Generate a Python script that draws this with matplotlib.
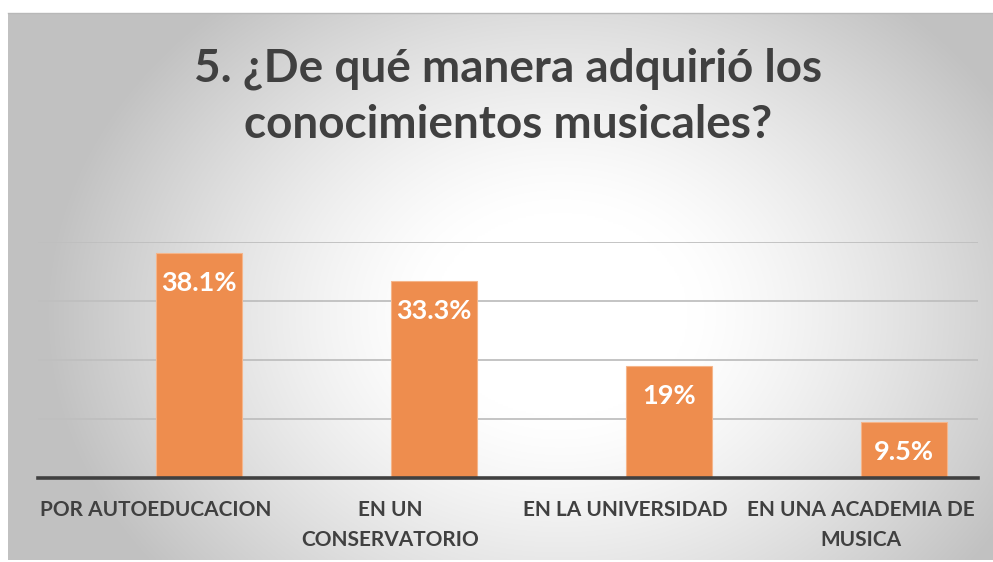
import numpy as np
import matplotlib
matplotlib.use("Agg")
import matplotlib.pyplot as plt
from matplotlib.transforms import blended_transform_factory

categories = ["POR AUTOEDUCACION", "EN UN\nCONSERVATORIO", "EN LA UNIVERSIDAD", "EN UNA ACADEMIA DE\nMUSICA"]
values = [38.1, 33.3, 19.0, 9.5]
value_labels = ["38.1%", "33.3%", "19%", "9.5%"]
title = "5. ¿De qué manera adquirió los\nconocimientos musicales?"

W, H = 993, 562
fig = plt.figure(figsize=(W / 100, H / 100), dpi=100)
fig.patch.set_facecolor("white")

# background radial gradient for chart area
bx0, by0, bx1, by1 = 8, 13, 993, 560
bg = fig.add_axes([bx0 / W, 1 - by1 / H, (bx1 - bx0) / W, (by1 - by0) / H], zorder=0)
ny, nx = 300, 600
yy, xx = np.mgrid[0:ny, 0:nx]
cx, cy = 0.56 * nx, 0.55 * ny
d = np.sqrt(((xx - cx) / (0.52 * nx)) ** 2 + ((yy - cy) / (0.75 * ny)) ** 2)
d = np.clip((d - 0.25) / 0.75, 0, 1)
val = 1.0 - (1.0 - 0.76) * d ** 1.3
img = np.dstack([val, val, val])
bg.imshow(img, aspect="auto", extent=[0, 1, 0, 1], origin="upper", interpolation="bilinear")
bg.set_xlim(0, 1); bg.set_ylim(0, 1)
bg.axis("off")
bg.plot([0, 1], [1, 1], color="#b8b8b8", lw=1.0, transform=bg.transAxes, clip_on=False)

font = "Lato"
ax_left, ax_right, ax_top, ax_bottom = 38, 978, 242, 477.7
ax = fig.add_axes([ax_left / W, 1 - ax_bottom / H, (ax_right - ax_left) / W, (ax_bottom - ax_top) / H], zorder=1)
ax.patch.set_alpha(0)
x = np.arange(len(categories))
bars = ax.bar(x, values, width=0.37, align="edge", color="#EE8D4E",
              edgecolor="#F5B58A", linewidth=0.8, zorder=2)
ax.set_xlim(-0.5, 3.5)
ax.set_ylim(0, 40)
ax.set_yticks([0, 10, 20, 30, 40])
ax.yaxis.grid(True, color="#BFBFBF", lw=1.3, zorder=1)
ax.set_axisbelow(True)
ax.tick_params(left=False, labelleft=False, bottom=False, labelbottom=False)
for s in ["left", "right", "top"]:
    ax.spines[s].set_visible(False)
ax.spines["bottom"].set_color("#404040")
ax.spines["bottom"].set_linewidth(2.6)
ax.spines["bottom"].set_zorder(3)

for b, lab in zip(bars, value_labels):
    ax.annotate(lab, (b.get_x() + b.get_width() / 2, b.get_height()),
                xytext=(0, -30), textcoords="offset pixels", ha="center", va="center",
                color="white", fontsize=19.5, fontweight="bold", family=font, zorder=4)

trans = blended_transform_factory(ax.transData, fig.transFigure)
for i, c in enumerate(categories):
    ax.text(i, 1 - 500 / H, c, transform=trans, ha="center", va="top",
            fontsize=15, fontweight="bold", color="#404040", family=font, linespacing=1.6)

fig.text(508 / W, 1 - 97 / H, title, ha="center", va="center", fontsize=33,
         fontweight="bold", color="#404040", family=font, linespacing=1.4)

fig.savefig("out.png", dpi=100)
